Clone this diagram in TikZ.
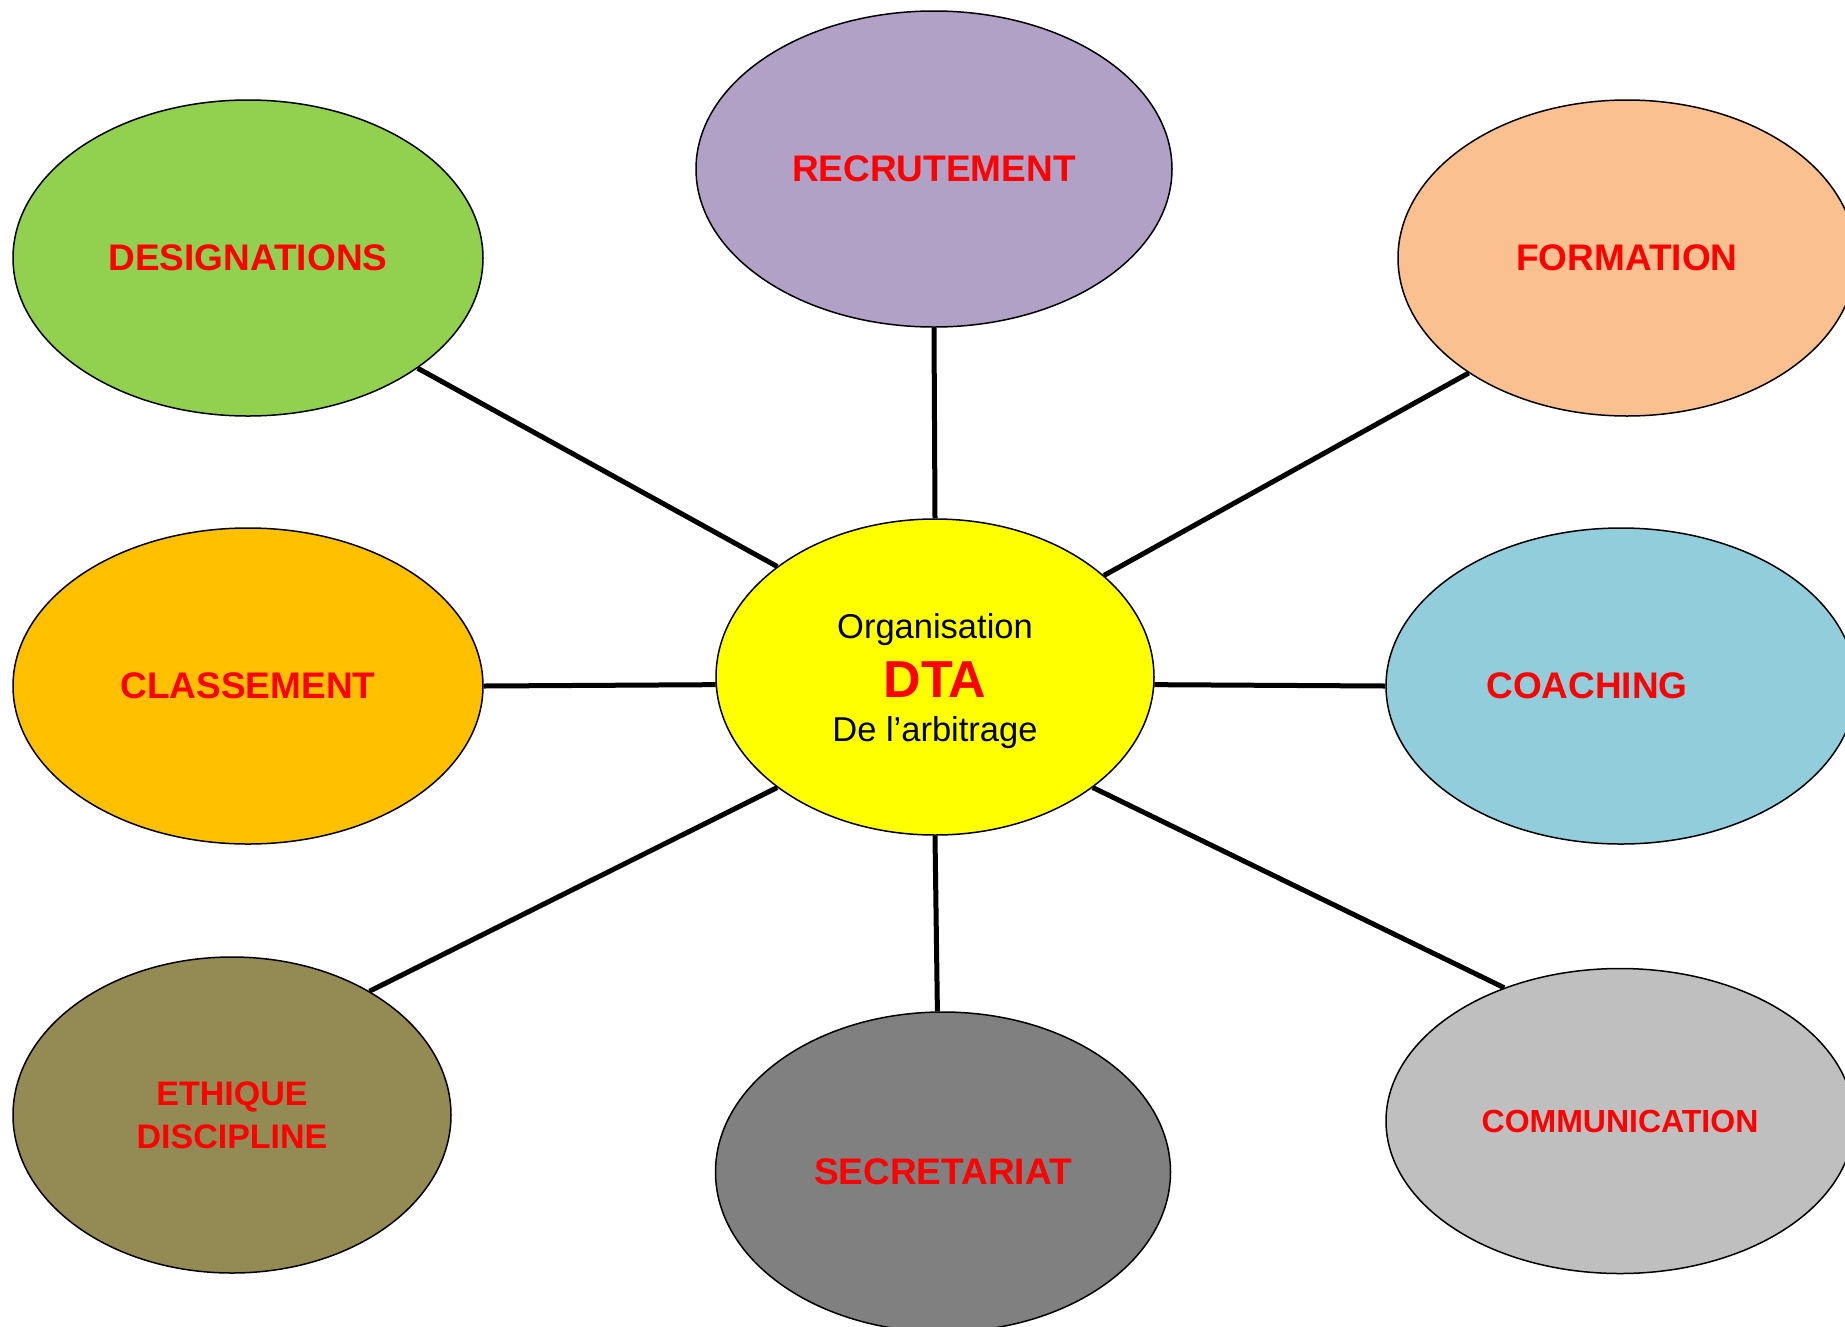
\documentclass[tikz,border=0pt]{standalone}
\usepackage{fontspec}
\setmainfont{Liberation Sans}
\usepackage{tikz}
\usetikzlibrary{shapes.geometric}
\usetikzlibrary{backgrounds}
\definecolor{designcol}{HTML}{92D050}
\definecolor{recrcol}{HTML}{B2A1C7}
\definecolor{formcol}{HTML}{FAC090}
\definecolor{classcol}{HTML}{FFC000}
\definecolor{dtacol}{HTML}{FFFF00}
\definecolor{coachcol}{HTML}{92CDDC}
\definecolor{ethiccol}{HTML}{948A54}
\definecolor{secrcol}{HTML}{808080}
\definecolor{commcol}{HTML}{BFBFBF}
\newcommand\bubblewidth{470pt}
\newcommand\bubbleheight{316pt}
\tikzset{
    bubble/.style={ellipse, draw, line width=1.5pt, inner sep=0pt, minimum width=\bubblewidth, minimum height=\bubbleheight, text=red, font=\fontsize{37}{44}\selectfont\bfseries, align=center},
    link/.style={line width=5pt},
}
\begin{document}
\begin{tikzpicture}[x=1pt,y=-1pt]
    \useasboundingbox (0,0) rectangle (1845,1326);
    \node (dta)[bubble, fill=dtacol, minimum width=438pt, text=black, font=\fontsize{34.5}{44}\selectfont] at (935,677)
        {\rule{0pt}{34pt}Organisation\\[15pt]{\fontsize{52}{52}\selectfont\bfseries\color{red}DTA}\\De l’arbitrage};
    \node (desig)[bubble, fill=designcol] at (248,258) {DESIGNATIONS};
    \node (recr)[bubble, fill=recrcol, minimum width=476pt] at (934,169) {RECRUTEMENT};
    \node (form)[bubble, fill=formcol, minimum width=458pt] at (1627,258) {FORMATION};
    \node (class)[bubble, fill=classcol] at (248,686) {CLASSEMENT};
    \node (coach)[bubble, fill=coachcol] at (1621,686) {COACHING\hspace*{68pt}};
    \node (ethic)[bubble, fill=ethiccol, minimum width=438pt, font=\fontsize{34}{42.7}\selectfont\bfseries] at (232,1115) {ETHIQUE\\DISCIPLINE};
    \node (secr)[bubble, fill=secrcol, minimum width=455pt, minimum height=320pt] at (943,1172) {SECRETARIAT};
    \node (comm)[bubble, fill=commcol, minimum width=468pt, minimum height=305pt, font=\fontsize{32}{40}\selectfont\bfseries] at (1620,1121) {COMMUNICATION};
    % spokes
    \begin{scope}[on background layer]
        \draw[link] (dta.145) -- (desig.-33);
        \draw[link] (dta.north) -- (recr.south);
        \draw[link] (dta.31) -- (form.216);
        \draw[link] (dta.182) -- (class.east);
        \draw[link] (dta.358) -- (coach.west);
        \draw[link] (dta.215) -- (ethic.42);
        \draw[link] (dta.south) -- (secr.92);
        \draw[link] (dta.-35) -- (comm.131);
    \end{scope}
\end{tikzpicture}
\end{document}
